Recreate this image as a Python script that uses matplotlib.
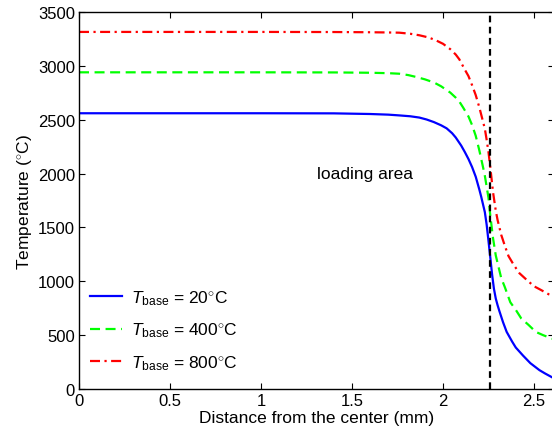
import matplotlib
matplotlib.use('Agg')
from matplotlib import pyplot as plt

matplotlib.rcParams.update({
    'font.family': ['Liberation Sans', 'DejaVu Sans'],
    'font.size': 12.5,
    'mathtext.fontset': 'custom',
    'mathtext.rm': 'Liberation Sans',
    'mathtext.it': 'Liberation Sans:italic',
    'mathtext.bf': 'Liberation Sans:bold',
    'xtick.direction': 'in',
    'ytick.direction': 'in',
})

# temperature profiles along the radius for three base temperatures
x_20 = [0, 0.5, 1.0, 1.4, 1.6, 1.7, 1.76, 1.82, 1.87, 1.91, 1.95, 1.99, 2.02, 2.05,
        2.07, 2.10, 2.12, 2.14, 2.16, 2.18, 2.20, 2.21, 2.23, 2.24, 2.25, 2.26, 2.27,
        2.28, 2.29, 2.30, 2.31, 2.33, 2.35, 2.38, 2.40, 2.44, 2.48, 2.53, 2.56, 2.60,
        2.62]
t_20 = [2560, 2560, 2560, 2559, 2553, 2547, 2540, 2532, 2520, 2502, 2478, 2448, 2420,
        2375, 2335, 2260, 2200, 2135, 2060, 1970, 1850, 1785, 1642, 1525, 1375, 1220,
        1060, 930, 840, 778, 723, 620, 530, 440, 385, 310, 240, 175, 145, 108, 97]

x_400 = [0, 0.5, 1.0, 1.4, 1.6, 1.7, 1.76, 1.81, 1.85, 1.90, 1.95, 1.99, 2.04, 2.07,
         2.09, 2.11, 2.14, 2.16, 2.18, 2.20, 2.22, 2.23, 2.25, 2.26, 2.275, 2.29, 2.30,
         2.32, 2.34, 2.37, 2.40, 2.43, 2.47, 2.51, 2.55, 2.60, 2.62]
t_400 = [2940, 2940, 2940, 2939, 2936, 2932, 2927, 2914, 2898, 2875, 2846, 2810, 2752,
         2705, 2668, 2615, 2530, 2450, 2350, 2213, 2060, 1980, 1775, 1610, 1400, 1240,
         1170, 1030, 945, 805, 735, 655, 595, 530, 500, 468, 460]

x_800 = [0, 0.5, 1.0, 1.4, 1.6, 1.7, 1.76, 1.82, 1.87, 1.92, 1.96, 2.00, 2.04, 2.07,
         2.09, 2.12, 2.14, 2.16, 2.18, 2.20, 2.22, 2.23, 2.24, 2.25, 2.26, 2.275, 2.29,
         2.30, 2.32, 2.34, 2.36, 2.39, 2.42, 2.46, 2.50, 2.54, 2.58, 2.62]
t_800 = [3315, 3315, 3315, 3314, 3312, 3310, 3308, 3298, 3284, 3264, 3238, 3205, 3155,
         3105, 3060, 2965, 2905, 2820, 2728, 2613, 2482, 2416, 2313, 2200, 2058, 1827,
         1656, 1569, 1431, 1329, 1234, 1149, 1075, 1013, 954, 918, 880, 858]

load_edge = 2.26
x_ticks = [0, 0.5, 1, 1.5, 2, 2.5]
x_ticklabels = ['0', '0.5', '1', '1.5', '2', '2.5']
y_ticks = [0, 500, 1000, 1500, 2000, 2500, 3000, 3500]
labels = [r'$T_{\mathrm{base}}$ = 20$^{\circ}$C',
          r'$T_{\mathrm{base}}$ = 400$^{\circ}$C',
          r'$T_{\mathrm{base}}$ = 800$^{\circ}$C']

fig = plt.figure(figsize=(5.52, 4.35), dpi=100)
# right spine sits on the figure edge
ax = fig.add_axes([79 / 552, 45 / 435, 475 / 552, 377 / 435])

ax.plot(x_20, t_20, color=(0, 0, 1), lw=1.6, label=labels[0])
ax.plot(x_400, t_400, color=(0, 1, 0), lw=1.6, dashes=(4.5, 2.5), label=labels[1])
ax.plot(x_800, t_800, color=(1, 0, 0), lw=1.6, dashes=(4.5, 2, 1, 2), label=labels[2])
ax.axvline(load_edge, color='k', lw=1.6, dashes=(3, 2))

ax.text(1.57, 2000, 'loading area', ha='center', va='center', fontsize=12.5)

ax.set_xlim(0, 2.61)
ax.set_ylim(0, 3500)
ax.set_xticks(x_ticks)
ax.set_xticklabels(x_ticklabels)
ax.set_yticks(y_ticks)
ax.tick_params(top=True, right=True, length=4, width=0.8, labelsize=12, pad=3)
for s in ax.spines.values():
    s.set_linewidth(1.0)

ax.set_xlabel('Distance from the center (mm)', fontsize=12.5, labelpad=1)
ax.set_ylabel(r'Temperature ($^{\circ}$C)', fontsize=12.5, labelpad=3)

ax.legend(loc='lower left', frameon=False, fontsize=12.5, handlelength=1.85,
          handletextpad=0.5, labelspacing=0.8, borderpad=0, borderaxespad=0,
          bbox_to_anchor=(11 / 475, 0.045))

fig.savefig('out.png', dpi=100)
